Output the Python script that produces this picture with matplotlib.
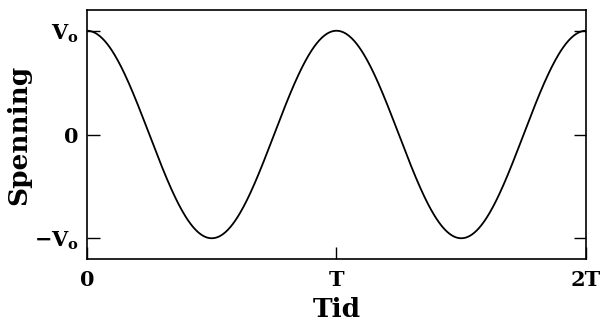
import matplotlib.pyplot as plt
import numpy as np

plt.rcParams['font.family'] = ['DejaVu Serif']
plt.rcParams['mathtext.fontset'] = 'custom'
plt.rcParams['mathtext.rm'] = 'DejaVu Serif:bold'

# signal parameters: V(t) = Vo * cos(2*pi*t / T)
amplitude = 1.0
period = 1.0
n_periods = 2

x_ticks = [0, 1, 2]
x_ticklabels = ['0', 'T', '2T']
y_ticks = [-1, 0, 1]
y_ticklabels = [r'$-$V$_\mathrm{o}$', '0', r'V$_\mathrm{o}$']

t = np.linspace(0, n_periods * period, 600)
v = amplitude * np.cos(2 * np.pi * t / period)

fig = plt.figure(figsize=(6.02, 3.31), dpi=100)
ax = fig.add_axes([0.1445, 0.2175, 0.8289, 0.7523])
ax.plot(t, v, color='black', linewidth=1.3)

ax.set_xlim(0, n_periods * period)
ax.set_ylim(-1.2, 1.2)

ax.set_xticks(x_ticks)
ax.set_xticklabels(x_ticklabels, fontweight='bold')
ax.set_yticks(y_ticks)
ax.set_yticklabels(y_ticklabels, fontweight='bold')
ax.tick_params(direction='in', length=9, width=1.0, labelsize=15,
               right=True)
ax.tick_params(axis='x', pad=8)
ax.tick_params(axis='y', pad=6)

for s in ax.spines.values():
    s.set_linewidth(1.2)

ax.set_xlabel('Tid', fontsize=19, fontweight='bold', labelpad=5)
ax.set_ylabel('Spenning', fontsize=19, fontweight='bold', labelpad=2)

fig.savefig('out.png', dpi=100)
